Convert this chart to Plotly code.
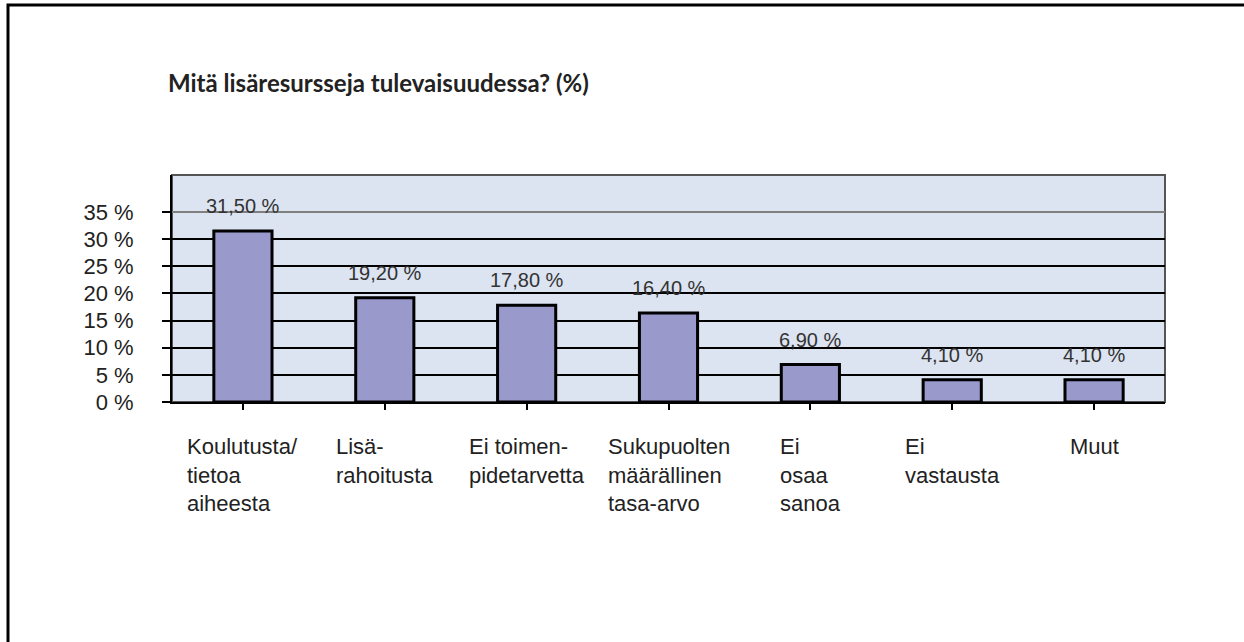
import plotly.graph_objects as go

category_labels = [
    "Koulutusta/<br>tietoa<br>aiheesta",
    "Lisä-<br>rahoitusta",
    "Ei toimen-<br>pidetarvetta",
    "Sukupuolten<br>määrällinen<br>tasa-arvo",
    "Ei<br>osaa<br>sanoa",
    "Ei<br>vastausta",
    "Muut",
]
values = [31.5, 19.2, 17.8, 16.4, 6.9, 4.1, 4.1]
value_labels = ["31,50 %", "19,20 %", "17,80 %", "16,40 %", "6,90 %", "4,10 %", "4,10 %"]
tick_vals = [0, 5, 10, 15, 20, 25, 30, 35]
tick_text = ["0 %", "5 %", "10 %", "15 %", "20 %", "25 %", "30 %", "35 %"]

W, H = 1244, 642
L, R, T, B = 172, 79, 175, 240
FONT = "Liberation Sans"

x_idx = list(range(len(values)))

fig = go.Figure()
fig.add_trace(go.Bar(
    x=x_idx,
    y=values,
    width=0.41,
    marker=dict(color="#9999cc", line=dict(color="black", width=3)),
    hoverinfo="skip",
))

# value labels above bars
for i, (v, lab) in enumerate(zip(values, value_labels)):
    fig.add_annotation(x=i, y=v, text=lab, showarrow=False, yanchor="bottom",
                       yshift=12, font=dict(family=FONT, size=20, color="#333333"))

# category labels below axis, lines left-aligned
for i, lab in enumerate(category_labels):
    fig.add_annotation(x=i, y=0, xref="x", yref="paper", text=lab, showarrow=False,
                       yanchor="top", xanchor="center", align="left", yshift=-30,
                       font=dict(family=FONT, size=22, color="#222222"))

# top gridline is grey in the original
fig.add_shape(type="line", xref="paper", yref="y", x0=0, x1=1,
              y0=max(tick_vals), y1=max(tick_vals), line=dict(color="#808080", width=2))

# page frame
pw, ph = W - L - R, H - T - B
fig.add_shape(type="rect", xref="paper", yref="paper",
              x0=(8 - L) / pw, x1=(W + 20 - L) / pw,
              y0=-(H + 20 - (H - B)) / ph, y1=1 + (T - 5) / ph,
              line=dict(color="black", width=3), layer="below")

# plot area border
fig.add_shape(type="rect", xref="paper", yref="paper", x0=0, x1=1, y0=0, y1=1,
              line=dict(color="#555555", width=2), layer="below")

fig.update_layout(
    width=W, height=H,
    margin=dict(l=L, r=R, t=T, b=B),
    paper_bgcolor="white",
    plot_bgcolor="#dce3f1",
    showlegend=False,
    title=dict(text="<b>Mitä lisäresursseja tulevaisuudessa? (%)</b>",
               x=168 / W, xanchor="left", y=1 - 84 / H, yanchor="middle",
               font=dict(family="Lato", size=24, color="#222222")),
    xaxis=dict(
        range=[-0.5, len(values) - 0.5],
        tickvals=x_idx, ticktext=[""] * len(values),
        tickson="boundaries", ticks="outside", ticklen=6, tickwidth=2, tickcolor="black",
        showline=True, linecolor="black", linewidth=2,
        showgrid=False, zeroline=False,
    ),
    yaxis=dict(
        range=[0, 41.8],
        tickvals=tick_vals, ticktext=tick_text,
        ticks="outside", ticklen=8, tickwidth=2, tickcolor="black",
        ticklabelstandoff=24,
        showline=True, linecolor="black", linewidth=2,
        showgrid=True, gridcolor="black", gridwidth=2, zeroline=False,
        tickfont=dict(family=FONT, size=22, color="#222222"),
    ),
)

fig.write_html("out.html", config={"displayModeBar": False},
               post_script="document.body.style.margin='0';")
